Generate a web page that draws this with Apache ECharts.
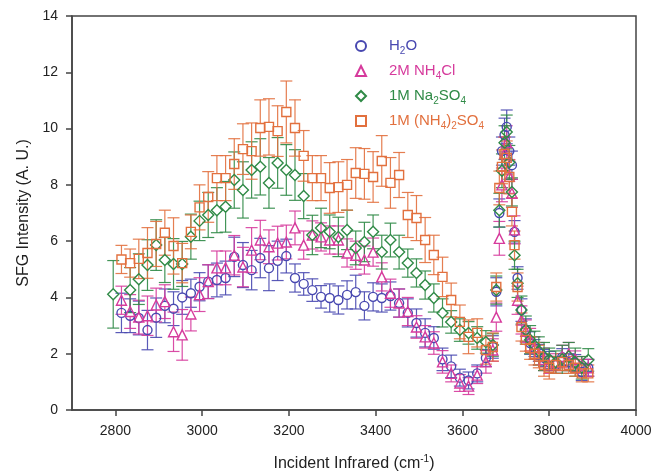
<!DOCTYPE html>
<html>
<head>
<meta charset="utf-8">
<script src="https://cdn.jsdelivr.net/npm/echarts@6/dist/echarts.min.js"></script>
<style>
  html, body { margin: 0; padding: 0; background: #fff; }
  #chart { width: 655px; height: 475px; }
</style>
</head>
<body>
<div id="chart"></div>
<script>
// x positions (cm-1) of the scan points
const xLow = [2814, 2834, 2854, 2874, 2894, 2914, 2934, 2954, 2974, 2994, 3014, 3034, 3054, 3074, 3094,
  3114, 3134, 3154, 3174, 3194, 3214, 3234, 3254, 3274, 3294, 3314, 3334, 3354, 3374, 3394, 3414, 3434,
  3454, 3474, 3494, 3514, 3534, 3554, 3574, 3594, 3614, 3634, 3654, 3670];
const xNaLow = [2795, 2834, 2854, 2874, 2894, 2914, 2934, 2954, 2974, 2994, 3014, 3034, 3054, 3074, 3094,
  3114, 3134, 3154, 3174, 3194, 3214, 3234, 3254, 3274, 3294, 3314, 3334, 3354, 3374, 3394, 3414, 3434,
  3454, 3474, 3494, 3514, 3534, 3554, 3574, 3594, 3614, 3634, 3654, 3670];
const xPeak = [3678, 3685, 3691, 3697, 3702, 3708, 3714, 3720, 3727, 3736, 3746, 3756, 3766, 3776, 3788,
  3800, 3815, 3830, 3845, 3860, 3875, 3890];

// H2O
const waterLow = [3.45, 3.35, 3.27, 2.84, 3.28, 3.7, 3.6, 4.0, 4.15, 4.38, 4.56, 4.62, 4.69, 5.44, 5.15,
  4.97, 5.4, 5.04, 5.3, 5.47, 4.69, 4.48, 4.26, 4.02, 3.98, 3.91, 4.09, 4.19, 3.7, 4.02, 3.98, 4.05,
  3.8, 3.45, 3.09, 2.74, 2.56, 1.8, 1.55, 1.15, 1.05, 1.3, 1.85, 2.24];
const waterLowErr = [0.7, 0.6, 0.6, 0.7, 0.7, 0.6, 0.6, 0.6, 0.5, 0.5, 0.6, 0.6, 0.6, 0.7, 0.8,
  0.7, 0.7, 0.8, 0.7, 0.6, 0.5, 0.4, 0.4, 0.4, 0.5, 0.5, 0.5, 0.6, 0.5, 0.5, 0.5, 0.5,
  0.5, 0.5, 0.5, 0.5, 0.4, 0.4, 0.4, 0.3, 0.3, 0.3, 0.3, 0.4];
const waterPeak = [4.2, 7.0, 9.2, 9.77, 10.06, 9.2, 8.7, 6.33, 4.69, 3.55, 2.84, 2.38, 2.2, 2.03, 1.85,
  1.78, 1.6, 1.88, 1.7, 1.67, 1.35, 1.5];
const waterPeakErr = [0.5, 0.5, 0.5, 0.6, 0.6, 0.5, 0.5, 0.4, 0.4, 0.4, 0.4, 0.4, 0.3, 0.3, 0.3,
  0.3, 0.3, 0.3, 0.3, 0.3, 0.3, 0.3];

// 2M NH4Cl
const clLow = [3.9, 3.5, 3.3, 3.35, 3.73, 3.85, 2.78, 2.67, 3.41, 4.1, 4.56, 5.05, 5.05, 5.5, 5.08,
  5.68, 6.04, 5.8, 5.93, 5.97, 6.47, 5.86, 6.22, 6.15, 6.04, 6.04, 5.58, 5.5, 5.33, 5.61, 4.73, 4.15,
  3.8, 3.5, 2.95, 2.6, 2.38, 1.71, 1.3, 0.96, 0.85, 1.24, 1.71, 2.13];
const clLowErr = [0.5, 0.6, 0.6, 0.7, 0.6, 0.6, 0.7, 0.9, 0.6, 0.6, 0.6, 0.6, 0.6, 0.7, 0.7,
  0.8, 0.7, 0.6, 0.6, 0.6, 0.6, 0.5, 0.5, 0.5, 0.5, 0.5, 0.5, 0.5, 0.5, 0.5, 0.5, 0.5,
  0.5, 0.5, 0.4, 0.4, 0.4, 0.4, 0.3, 0.3, 0.3, 0.3, 0.4, 0.4];
const clPeak = [3.3, 6.1, 8.0, 9.1, 9.5, 8.3, 7.7, 6.4, 3.9, 3.2, 2.8, 2.5, 2.2, 2.0, 1.8,
  1.6, 1.7, 1.9, 2.0, 1.8, 1.6, 1.5];
const clPeakErr = [0.5, 0.6, 0.6, 0.6, 0.6, 0.6, 0.5, 0.5, 0.5, 0.5, 0.4, 0.4, 0.4, 0.4, 0.4,
  0.3, 0.3, 0.4, 0.4, 0.3, 0.3, 0.3];

// 1M Na2SO4
const naLow = [4.11, 4.26, 4.65, 5.15, 5.86, 5.33, 5.19, 5.19, 6.16, 6.72, 6.93, 7.1, 7.22, 8.17, 7.82,
  8.53, 8.64, 8.07, 8.78, 8.53, 8.35, 7.6, 6.22, 6.47, 6.33, 6.15, 6.4, 5.76, 5.97, 6.33, 5.61, 6.04,
  5.61, 5.22, 4.87, 4.44, 3.98, 3.45, 3.13, 2.84, 2.74, 2.56, 2.42, 2.31];
const naLowErr = [1.2, 0.8, 0.9, 0.9, 0.9, 0.8, 0.9, 0.8, 0.8, 0.7, 0.8, 0.8, 0.9, 1.0, 1.0,
  1.0, 1.0, 0.9, 0.9, 0.9, 0.9, 0.8, 0.7, 0.7, 0.6, 0.7, 0.7, 0.6, 0.7, 0.6, 0.6, 0.6,
  0.6, 0.5, 0.5, 0.5, 0.5, 0.5, 0.4, 0.4, 0.4, 0.4, 0.4, 0.4];
const naPeak = [4.26, 7.1, 8.5, 9.5, 9.88, 8.8, 7.75, 5.5, 4.5, 3.55, 2.84, 2.5, 2.3, 2.1, 1.9,
  1.8, 1.7, 1.8, 1.9, 1.7, 1.5, 1.78];
const naPeakErr = [0.5, 0.6, 0.6, 0.6, 0.6, 0.6, 0.5, 0.5, 0.5, 0.5, 0.5, 0.5, 0.5, 0.5, 0.5,
  0.4, 0.4, 0.5, 0.5, 0.5, 0.4, 0.4];

// 1M (NH4)2SO4
const amLow = [5.35, 5.22, 5.37, 5.58, 5.9, 6.3, 5.83, 5.22, 6.33, 7.2, 7.57, 8.24, 8.24, 8.74, 9.27,
  9.2, 10.02, 10.06, 9.91, 10.59, 10.02, 9.03, 8.24, 8.24, 7.89, 7.92, 8.0, 8.42, 8.39, 8.28, 8.85, 8.07,
  8.35, 6.93, 6.82, 6.04, 5.51, 4.73, 3.91, 3.13, 2.6, 2.74, 2.13, 2.24];
const amLowErr = [0.5, 0.5, 0.7, 0.9, 0.8, 0.8, 1.0, 0.7, 0.6, 0.8, 0.9, 0.8, 0.8, 0.9, 0.9,
  1.0, 1.0, 1.0, 0.9, 1.1, 1.0, 0.9, 0.8, 0.8, 0.9, 0.9, 0.9, 0.9, 0.9, 0.9, 0.9, 0.9,
  0.8, 0.8, 0.8, 0.8, 0.7, 0.7, 0.6, 0.6, 0.6, 0.5, 0.5, 0.5];
const amPeak = [4.37, 7.89, 8.64, 9.1, 8.96, 8.28, 7.04, 5.86, 4.37, 2.95, 2.49, 2.2, 2.0, 1.9, 1.6,
  1.5, 1.6, 1.7, 1.6, 1.5, 1.3, 1.3];
const amPeakErr = [0.5, 0.6, 0.6, 0.6, 0.6, 0.6, 0.5, 0.5, 0.5, 0.5, 0.4, 0.4, 0.4, 0.4, 0.4,
  0.4, 0.3, 0.3, 0.3, 0.3, 0.3, 0.3];

const xTicks = [2800, 3000, 3200, 3400, 3600, 3800, 4000];

const groups = [
  { name: 'H2O', color: '#4848b0', symbol: 'circle', size: 9, rich: 'H{b|2}O',
    x: xLow.concat(xPeak), y: waterLow.concat(waterPeak), e: waterLowErr.concat(waterPeakErr) },
  { name: '2M NH4Cl', color: '#d63a9c', symbol: 'triangle', size: 10, rich: '2M NH{m|4}Cl',
    x: xLow.concat(xPeak), y: clLow.concat(clPeak), e: clLowErr.concat(clPeakErr) },
  { name: '1M Na2SO4', color: '#2f8a46', symbol: 'diamond', size: 11, rich: '1M Na{g|2}SO{g|4}',
    x: xNaLow.concat(xPeak), y: naLow.concat(naPeak), e: naLowErr.concat(naPeakErr) },
  { name: '1M (NH4)2SO4', color: '#e2703e', symbol: 'rect', size: 9, rich: '1M (NH{o|4}){o|2}SO{o|4}',
    x: xLow.concat(xPeak), y: amLow.concat(amPeak), e: amLowErr.concat(amPeakErr) }
];

const subStyle = (c) => ({ color: c, fontSize: 10, lineHeight: 9, verticalAlign: 'bottom' });

const errRender = (color, r) => (params, api) => {
  const x = api.value(0), y = api.value(1), e = api.value(2);
  const mid = api.coord([x, y]);
  const top = api.coord([x, y + e]);
  const bot = api.coord([x, y - e]);
  const half = 6;
  const style = { stroke: color, lineWidth: 1.2, opacity: 0.9 };
  const kids = [
    { type: 'line', shape: { x1: top[0] - half, y1: top[1], x2: top[0] + half, y2: top[1] }, style },
    { type: 'line', shape: { x1: bot[0] - half, y1: bot[1], x2: bot[0] + half, y2: bot[1] }, style }
  ];
  if (mid[1] - top[1] > r) {
    kids.push({ type: 'line', shape: { x1: mid[0], y1: top[1], x2: mid[0], y2: mid[1] - r }, style });
    kids.push({ type: 'line', shape: { x1: mid[0], y1: mid[1] + r, x2: mid[0], y2: bot[1] }, style });
  }
  return { type: 'group', children: kids };
};

const series = [];
groups.forEach(g => {
  const pts = g.x.map((x, i) => [x, g.y[i], g.e[i]]);
  series.push({
    name: g.name + ' err',
    type: 'custom',
    renderItem: errRender(g.color, g.size / 2),
    data: pts,
    encode: { x: 0, y: 1 },
    silent: true,
    z: 2
  });
  series.push({
    name: g.name,
    type: 'scatter',
    symbol: g.symbol,
    symbolSize: g.size,
    data: pts,
    itemStyle: { color: 'rgba(255,255,255,0)', borderColor: g.color, borderWidth: 1.4, opacity: 1 },
    z: 3
  });
});

const chart = echarts.init(document.getElementById('chart'), null, { renderer: 'canvas' });
chart.setOption({
  animation: false,
  backgroundColor: '#fff',
  textStyle: { fontFamily: 'Liberation Sans, Arial, sans-serif' },
  grid: {
    left: 72, right: 19, top: 16, bottom: 65,
    outerBoundsMode: 'none',
    show: true, borderColor: '#444', borderWidth: 1.5
  },
  legend: {
    orient: 'vertical',
    left: 350,
    top: 31,
    itemWidth: 10,
    itemHeight: 10,
    itemGap: 5,
    data: groups.map(g => ({ name: g.name, textStyle: { color: g.color } })),
    formatter: name => groups.find(g => g.name === name).rich,
    textStyle: {
      fontSize: 15,
      lineHeight: 20,
      padding: [0, 0, 0, 18],
      rich: {
        b: subStyle('#4848b0'),
        m: subStyle('#d63a9c'),
        g: subStyle('#2f8a46'),
        o: subStyle('#e2703e')
      }
    }
  },
  xAxis: {
    type: 'value',
    min: 2700,
    max: 4000,
    name: 'Incident Infrared (cm{sup|-1})',
    nameLocation: 'middle',
    nameGap: 44,
    nameTextStyle: {
      fontSize: 16, color: '#222', lineHeight: 20,
      rich: { sup: { fontSize: 10, lineHeight: 10, verticalAlign: 'top', color: '#222' } }
    },
    axisLine: { lineStyle: { color: '#444', width: 1.5 } },
    axisTick: { show: true, length: 6, customValues: xTicks, lineStyle: { color: '#444', width: 1.5 } },
    axisLabel: { customValues: xTicks, fontSize: 14, color: '#222', margin: 14, formatter: v => String(v) },
    splitLine: { show: false }
  },
  yAxis: {
    type: 'value',
    min: 0,
    max: 14,
    interval: 2,
    name: 'SFG Intensity (A. U.)',
    nameLocation: 'middle',
    nameGap: 34,
    nameTextStyle: { fontSize: 16, color: '#222' },
    axisLine: { show: true, lineStyle: { color: '#444', width: 1.5 } },
    axisTick: { show: true, length: 6, lineStyle: { color: '#444', width: 1.5 } },
    axisLabel: { fontSize: 14, color: '#222', margin: 14 },
    splitLine: { show: false }
  },
  series
});
</script>
</body>
</html>
